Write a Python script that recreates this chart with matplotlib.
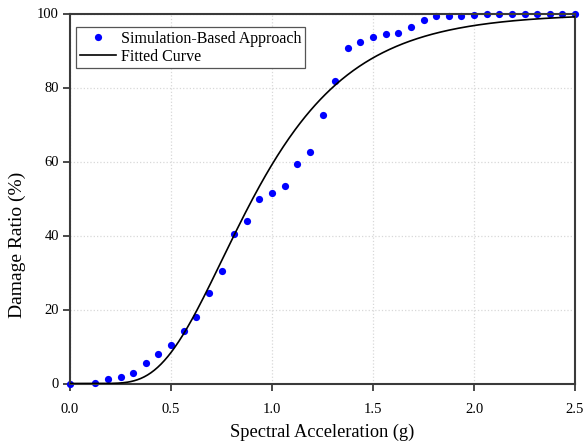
import math
import numpy as np
import matplotlib
matplotlib.use("Agg")
import matplotlib.pyplot as plt

# Simulated damage ratios at each spectral acceleration level
sa_g = [0.0, 0.125, 0.1875, 0.25, 0.3125, 0.375, 0.4375, 0.5, 0.5625, 0.625,
        0.6875, 0.75, 0.8125, 0.875, 0.9375, 1.0, 1.0625, 1.125, 1.1875, 1.25,
        1.3125, 1.375, 1.4375, 1.5, 1.5625, 1.625, 1.6875, 1.75, 1.8125, 1.875,
        1.9375, 2.0, 2.0625, 2.125, 2.1875, 2.25, 2.3125, 2.375, 2.4375, 2.5]
damage_pct = [0.0, 0.2, 1.2, 1.7, 2.8, 5.5, 7.9, 10.3, 14.3, 18.1,
              24.5, 30.4, 40.4, 43.8, 49.8, 51.6, 53.3, 59.2, 62.6, 72.6,
              81.7, 90.7, 92.3, 93.7, 94.4, 94.7, 96.4, 98.3, 99.3, 99.4,
              99.4, 99.6, 99.8, 99.8, 99.9, 99.9, 99.9, 99.9, 99.9, 100.0]

# Lognormal fragility fit: median (g) and log-standard deviation
fit_median = 0.905
fit_beta = 0.43

x_ticks = [0.0, 0.5, 1.0, 1.5, 2.0, 2.5]
y_ticks = [0, 20, 40, 60, 80, 100]


def lognormal_cdf(x, median, beta):
    x = np.asarray(x, dtype=float)
    out = np.zeros_like(x)
    pos = x > 0
    z = np.log(x[pos] / median) / beta
    out[pos] = 0.5 * (1.0 + np.vectorize(math.erf)(z / math.sqrt(2.0)))
    return out


plt.rcParams["font.family"] = ["Liberation Serif", "DejaVu Serif"]

fig = plt.figure(figsize=(5.84, 4.47), dpi=100)
ax = fig.add_axes([70 / 584, 1 - 383.5 / 447, 505 / 584, 370 / 447])

xs = np.linspace(0.0, 2.5, 600)
ax.plot(sa_g, damage_pct, linestyle="none", marker="o", markersize=5.2,
        color="#0000ff", markeredgewidth=0, label="Simulation-Based Approach",
        clip_on=False, zorder=2)
ax.plot(xs, 100 * lognormal_cdf(xs, fit_median, fit_beta), color="black",
        linewidth=1.2, label="Fitted Curve", zorder=3)

ax.set_xlim(0.0, 2.5)
ax.set_ylim(0, 100)
ax.set_xticks(x_ticks)
ax.set_xticklabels([f"{v:.1f}" for v in x_ticks])
ax.set_yticks(y_ticks)
ax.set_yticklabels([str(v) for v in y_ticks])

ax.grid(True, color="#d8d8d8", linestyle=":", linewidth=0.9)
ax.set_axisbelow(True)

for sp in ax.spines.values():
    sp.set_linewidth(1.5)
    sp.set_color("#3a3a3a")

ax.tick_params(axis="both", direction="out", length=5, width=1.3,
               color="#3a3a3a", labelsize=10.5)
ax.tick_params(axis="x", pad=9)
ax.tick_params(axis="y", pad=3)

ax.set_xlabel("Spectral Acceleration (g)", fontsize=13.2)
ax.set_ylabel("Damage Ratio (%)", fontsize=14)
ax.xaxis.set_label_coords(0.5, -0.108)
ax.yaxis.set_label_coords(-0.088, 0.374)

leg = ax.legend(loc="upper left", bbox_to_anchor=(0.006, 0.972), fontsize=11.5,
                frameon=True, fancybox=False, edgecolor="#555555",
                framealpha=1, numpoints=1, handlelength=2.3,
                borderpad=0.22, labelspacing=0.14, handletextpad=0.3,
                borderaxespad=0.2)
leg.get_frame().set_linewidth(0.9)

fig.savefig("out.png", dpi=100)
